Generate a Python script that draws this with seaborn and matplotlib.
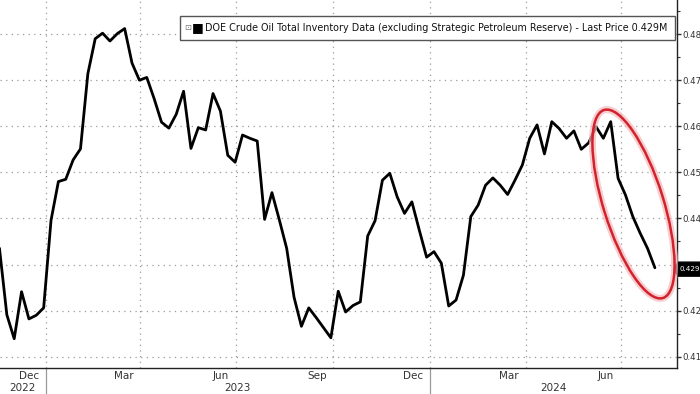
import pandas as pd
import seaborn as sns
import matplotlib.pyplot as plt
import matplotlib.transforms as mtransforms
from matplotlib.patches import Ellipse, Rectangle, Polygon

# weekly crude inventory, millions of barrels (shown in the chart as 0.xxx)
week_start = "2022-11-11"
inventory_2022 = [435.4, 433.5, 419.1, 413.9, 424.1, 418.2, 419.0, 420.6]
inventory_2023 = [439.6, 448.0, 448.5, 452.7, 455.1, 471.4, 479.0, 480.2, 478.5, 480.1,
                  481.2, 473.7, 470.0, 470.6, 466.0, 460.9, 459.6, 462.6, 467.6, 455.2,
                  459.7, 459.2, 467.1, 463.3, 453.7, 452.2, 458.1, 457.4, 456.8, 439.8,
                  445.6, 439.7, 433.5, 422.9, 416.6, 420.6, 418.5, 416.3, 414.1, 424.2,
                  419.7, 421.1, 421.9, 436.2, 439.5, 448.3, 449.8, 444.7, 441.1, 443.6,
                  437.5, 431.6]
inventory_2024 = [432.8, 430.3, 421.0, 422.3, 427.7, 440.4, 442.9, 447.2, 448.8, 447.2,
                  445.2, 448.3, 451.6, 457.4, 460.3, 454.0, 461.0, 459.5, 457.4, 459.0,
                  455.0, 456.4, 459.9, 457.4, 461.0, 448.7, 445.1, 440.4, 436.8, 433.5,
                  429.3]
last_price = 0.429
y_ticks = [0.41, 0.42, 0.43, 0.44, 0.45, 0.46, 0.47, 0.48]
y_labels = ["0.41", "0.42", "", "0.44", "0.45", "0.46", "0.47", "0.48"]
month_labels = {12: "Dec", 3: "Mar", 6: "Jun", 9: "Sep"}
title = ("DOE Crude Oil Total Inventory Data (excluding Strategic Petroleum Reserve)"
         " - Last Price 0.429M")

values = [v / 1000 for v in inventory_2022 + inventory_2023 + inventory_2024]
df = pd.DataFrame({"date": pd.date_range(week_start, periods=len(values), freq="7D"),
                   "inventory": values})

sns.set_style("white")
plt.rcParams["font.family"] = ["DejaVu Sans"]
txt = "#333333"

fig = plt.figure(figsize=(7, 3.94), dpi=100)
ax = fig.add_axes([0, 26 / 394, 677 / 700, 368 / 394])

x0, x1 = pd.Timestamp("2022-11-18 12:00"), pd.Timestamp("2024-08-23")
ax.set_xlim(x0, x1)
ax.set_ylim(0.40755, 0.4874)

# dotted grid: horizontal at each tick, vertical at quarter starts
for q in pd.date_range("2023-01-01", "2024-07-01", freq="QS"):
    ax.axvline(q, color="#9a9a9a", lw=0.9, ls=(0, (1, 3.5)), zorder=0)
for yv in y_ticks:
    ax.axhline(yv, color="#9a9a9a", lw=0.9, ls=(0, (1, 3.5)), zorder=0)

sns.lineplot(data=df, x="date", y="inventory", color="black", lw=2.0, ax=ax, zorder=3)
ax.set_xlabel("")
ax.set_ylabel("")

# right axis
ax.yaxis.tick_right()
ax.set_yticks(y_ticks)
ax.set_yticklabels(y_labels)
ax.set_yticks([v + 0.005 for v in y_ticks[:-1]] + [0.485], minor=True)
ax.tick_params(axis="y", which="major", direction="out", length=3.2, width=1,
               colors=txt, labelsize=6.2, pad=0.4)
ax.tick_params(axis="y", which="minor", direction="out", length=2.2, width=0.8, colors=txt)

# bottom axis: month ticks, labels centred in the month
months = pd.date_range("2022-12-01", "2024-08-01", freq="MS")
ax.set_xticks(months)
ax.set_xticklabels([])
mids = [m + pd.Timedelta(days=15) for m in months if m.month in month_labels]
ax.set_xticks(mids, minor=True)
ax.set_xticklabels([month_labels[m.month] for m in mids], minor=True)
ax.tick_params(axis="x", which="major", direction="out", length=3.5, width=0.8, colors=txt)
ax.tick_params(axis="x", which="minor", length=0, labelsize=7.5, colors=txt, pad=2)

for side in ["left", "top"]:
    ax.spines[side].set_visible(False)
for side in ["bottom", "right"]:
    ax.spines[side].set_color("#222222")
    ax.spines[side].set_linewidth(1.0)

# year row with separators
trans = mtransforms.blended_transform_factory(ax.transData, ax.transAxes)
for yb in [pd.Timestamp("2023-01-01"), pd.Timestamp("2024-01-01")]:
    ax.plot([yb, yb], [0, -26 / 368], transform=trans, color="#9a9a9a", lw=0.9,
            clip_on=False)
years = [("2022", x0, pd.Timestamp("2023-01-01")),
         ("2023", pd.Timestamp("2023-01-01"), pd.Timestamp("2024-01-01")),
         ("2024", pd.Timestamp("2024-01-01"), x1)]
for label, a, b in years:
    ax.text(a + (b - a) / 2, -20 / 368, label, transform=trans, ha="center",
            va="center", fontsize=7.5, color=txt)

# last price tag: black pointed box on the right axis
tag_y = ax.transData.transform((0, last_price))[1]
px = lambda x, y: (x / 700, y / 394)
tag = [(674, tag_y), (678, tag_y - 7), (700, tag_y - 7), (700, tag_y + 7), (678, tag_y + 7)]
fig.patches.append(Polygon([px(x, y) for x, y in tag], closed=True,
                           transform=fig.transFigure, fc="black", ec="black", zorder=6))
fig.text(679 / 700, tag_y / 394, f"{last_price:.3f}", fontsize=5.1, color="white",
         va="center", ha="left", zorder=7)

# legend box
fig.patches.append(Rectangle((180 / 700, 354 / 394), 495 / 700, 24 / 394,
                             transform=fig.transFigure, fc="white", ec="#555555",
                             lw=1.0, zorder=5))
fig.text(184 / 700, 366 / 394, "\u22a1", fontsize=6, color="#777777", va="center",
         zorder=6)
fig.text(192 / 700, 366 / 394, "\u25a0", fontsize=9, color="black", va="center",
         zorder=6)
fig.text(205 / 700, 366 / 394, title, fontsize=6.9, color="#111111", va="center",
         zorder=6)

# red highlight ellipse with soft glow
centre = (633.5 / 100, (394 - 204) / 100)
fig.patches.append(Ellipse(centre, 0.6, 1.97, angle=17.4, transform=fig.dpi_scale_trans,
                           fill=False, ec="#f4b8bb", lw=5, alpha=0.7, zorder=7))
fig.patches.append(Ellipse(centre, 0.6, 1.97, angle=17.4, transform=fig.dpi_scale_trans,
                           fill=False, ec="#d3222c", lw=1.8, zorder=8))

fig.savefig("out.png", dpi=100)
